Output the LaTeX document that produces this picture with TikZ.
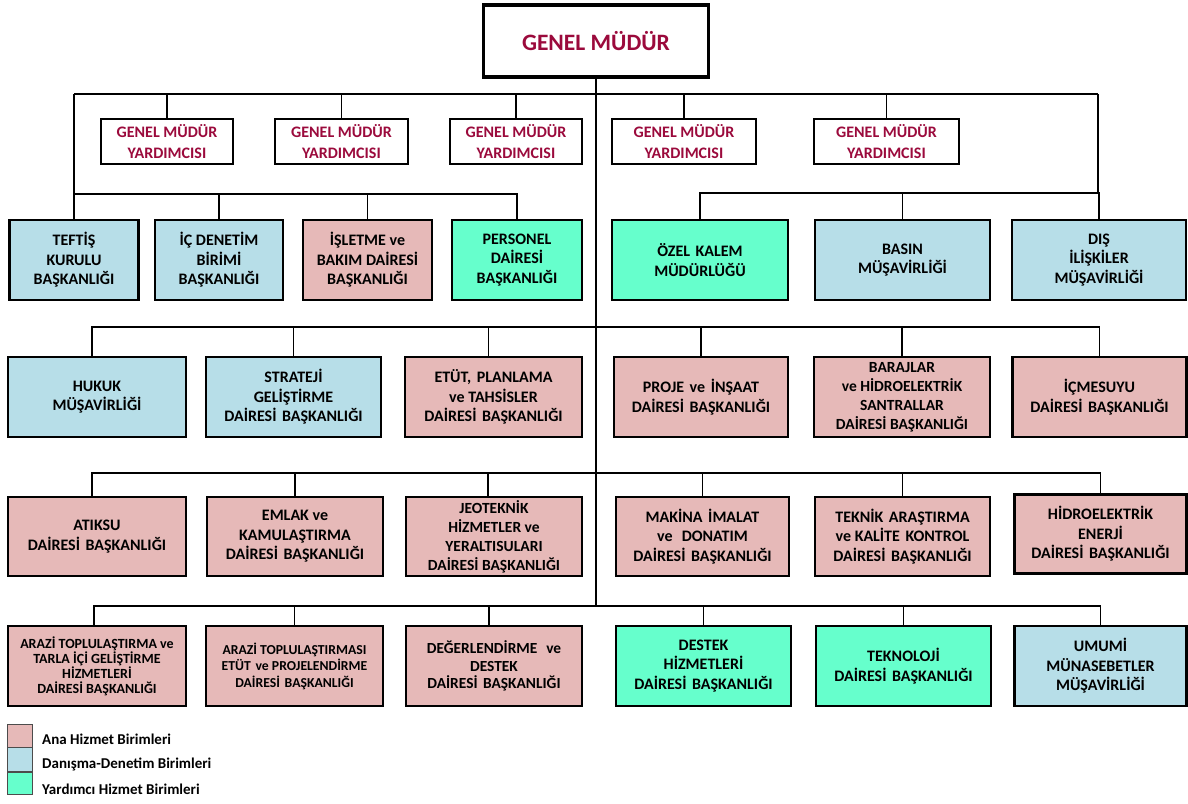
\documentclass[tikz,border=0pt]{standalone}
\usepackage{fontspec}
\setmainfont{Carlito}
\definecolor{pinkc}{HTML}{E6B9B8}
\definecolor{bluec}{HTML}{B7DEE8}
\definecolor{greenc}{HTML}{66FFCC}
\definecolor{crim}{RGB}{155,10,60}
\newcommand\dsp{\hspace{0.35em}}
\newcommand\ob[7]{\node[#2, minimum width=#5pt, minimum height=#6pt] (#1) at (#3,#4) {#7};}
\begin{document}
\begin{tikzpicture}[x=1pt,y=-1pt,
  box/.style={draw=black, line width=2.2pt, align=center, inner sep=0pt,
    font=\bfseries\fontsize{16}{19.5}\selectfont},
  ana/.style={box, fill=pinkc},
  dan/.style={box, fill=bluec},
  yar/.style={box, fill=greenc},
  four/.style={font=\bfseries\fontsize{15.5}{19}\selectfont},
  gmy/.style={box, fill=white, text=crim, font=\bfseries\fontsize{16}{20.5}\selectfont},
  conn/.style={line width=1.8pt},
  legsw/.style={draw=black!70, line width=0.8pt, minimum width=25pt, inner sep=0pt},
  legtx/.style={anchor=west, inner sep=0pt, font=\bfseries\fontsize{15}{16}\selectfont}]
\useasboundingbox (0,0) rectangle (1188,803);

% top
\node[box, line width=3.5pt, text=crim, minimum width=225pt, minimum height=72pt,
  font=\bfseries\fontsize{23.5}{28}\selectfont] (gm) at (596,41) {GENEL MÜDÜR};

\ob{gmy1}{gmy}{167}{141.5}{132}{45}{GENEL MÜDÜR\\YARDIMCISI}
\ob{gmy2}{gmy}{341.5}{141.5}{133}{45}{GENEL MÜDÜR\\YARDIMCISI}
\ob{gmy3}{gmy}{516}{141.5}{132}{45}{GENEL MÜDÜR\\YARDIMCISI}
\ob{gmy4}{gmy}{684}{141.5}{144}{45}{GENEL MÜDÜR\\YARDIMCISI}
\ob{gmy5}{gmy}{886.5}{141.5}{145}{45}{GENEL MÜDÜR\\YARDIMCISI}

% row 2
\ob{tef}{dan}{74}{260}{129}{80}{TEFTİŞ\\KURULU\\BAŞKANLIĞI}
\ob{ic}{dan}{219}{260}{128}{80}{İÇ DENETİM\\BİRİMİ\\BAŞKANLIĞI}
\ob{isl}{ana}{367.5}{260}{129}{80}{İŞLETME ve\\BAKIM DAİRESİ\\BAŞKANLIĞI}
\ob{per}{yar}{517}{260}{130}{80}{PERSONEL\\DAİRESİ\\BAŞKANLIĞI}
\ob{ozel}{yar}{700}{260}{176}{80}{ÖZEL\dsp KALEM\\MÜDÜRLÜĞÜ}
\ob{basin}{dan}{902.5}{260}{175}{80}{BASIN\\MÜŞAVİRLİĞİ}
\ob{dis}{dan}{1099}{260}{174}{80}{DIŞ\\İLİŞKİLER\\MÜŞAVİRLİĞİ}

% row 3
\ob{hukuk}{dan}{97}{397}{178}{80}{HUKUK\\MÜŞAVİRLİĞİ}
\ob{strat}{dan}{293.5}{397}{175}{80}{STRATEJİ\\GELİŞTİRME\\DAİRESİ\dsp BAŞKANLIĞI}
\ob{etut}{ana}{493.5}{397}{177}{80}{ETÜT,\dsp PLANLAMA\\ve TAHSİSLER\\DAİRESİ\dsp BAŞKANLIĞI}
\ob{proje}{ana}{701}{397}{174}{80}{PROJE\dsp ve\dsp İNŞAAT\\DAİRESİ\dsp BAŞKANLIĞI}
\ob{baraj}{ana,four}{902}{397}{176}{80}{BARAJLAR\\ve HİDROELEKTRİK\\SANTRALLAR\\DAİRESİ BAŞKANLIĞI}
\ob{icme}{ana}{1099.5}{397}{174}{80}{İÇMESUYU\\DAİRESİ\dsp BAŞKANLIĞI}

% row 4
\ob{atik}{ana}{97}{536.5}{178}{79}{ATIKSU\\DAİRESİ\dsp BAŞKANLIĞI}
\ob{emlak}{ana}{295}{536.5}{176}{79}{EMLAK ve\\KAMULAŞTIRMA\\DAİRESİ\dsp BAŞKANLIĞI}
\ob{jeo}{ana,four}{494}{536.5}{176}{79}{JEOTEKNİK\\HİZMETLER ve\\YERALTISULARI\\DAİRESİ BAŞKANLIĞI}
\ob{mak}{ana}{702.5}{536.5}{173}{79}{MAKİNA\dsp İMALAT\\ve\dsp\ DONATIM\\DAİRESİ\dsp BAŞKANLIĞI}
\ob{tek}{ana}{902.5}{536.5}{175}{79}{TEKNİK\dsp ARAŞTIRMA\\ve KALİTE\dsp KONTROL\\DAİRESİ\dsp BAŞKANLIĞI}
\ob{hidro}{ana}{1100.5}{534}{172}{79}{HİDROELEKTRİK\\ENERJİ\\DAİRESİ\dsp BAŞKANLIĞI}

% row 5
\ob{ar1}{ana,font=\bfseries\fontsize{14}{15}\selectfont}{97}{666}{178}{80}{ARAZİ TOPLULAŞTIRMA ve\\TARLA İÇİ GELİŞTİRME\\HİZMETLERİ\\DAİRESİ BAŞKANLIĞI}
\ob{ar2}{ana,font=\bfseries\fontsize{13.7}{16.5}\selectfont}{294.5}{666}{177}{80}{ARAZİ TOPLULAŞTIRMASI\\ETÜT\dsp ve PROJELENDİRME\\DAİRESİ\dsp BAŞKANLIĞI}
\ob{deger}{ana,font=\bfseries\fontsize{15.4}{17.5}\selectfont}{494}{666}{176}{80}{DEĞERLENDİRME\dsp\ ve\\DESTEK\\DAİRESİ\dsp BAŞKANLIĞI}
\ob{destek}{yar}{703.5}{666}{175}{80}{DESTEK\\HİZMETLERİ\\DAİRESİ\dsp BAŞKANLIĞI}
\ob{tekno}{yar}{903.5}{666}{175}{80}{TEKNOLOJİ\\DAİRESİ\dsp BAŞKANLIĞI}
\ob{umumi}{dan}{1100.5}{666}{172}{80}{UMUMİ\\MÜNASEBETLER\\MÜŞAVİRLİĞİ}

% junction coordinates
\coordinate (tl) at (74,94);
\coordinate (tr) at (1098,94);
\coordinate (tl2) at (74,194);
\coordinate (tr2) at (1098,193);
\coordinate (r3) at (596,327);
\coordinate (r4) at (596,473);
\coordinate (r5) at (596,606);

% connectors
\draw[conn] (gm.south) -- (r5);
\draw[conn] (tl) -- (tr);
\draw[conn] (tl) -- (tl2);
\draw[conn] (tr) -- (tr2);
\foreach \n in {gmy1,gmy2,gmy3,gmy4,gmy5}
  \draw[conn] (\n.north) -- (\n.north |- tl);
\foreach \n in {tef,ic,isl,per}
  \draw[conn] (tl2) -| (\n.north);
\foreach \n in {ozel,basin,dis}
  \draw[conn] (tr2) -| (\n.north);
\foreach \n in {strat,proje,baraj,icme}
  \draw[conn] (r3) -| (\n.north);
\draw[conn] (r3) -| ([xshift=-5pt]hukuk.north);
\draw[conn] (r3) -| ([xshift=-5pt]etut.north);
\foreach \n in {emlak,mak,tek,hidro}
  \draw[conn] (r4) -| (\n.north);
\draw[conn] (r4) -| ([xshift=-5pt]atik.north);
\draw[conn] (r4) -| ([xshift=-6pt]jeo.north);
\foreach \n in {ar2,destek,tekno,umumi}
  \draw[conn] (r5) -| (\n.north);
\draw[conn] (r5) -| ([xshift=-3pt]ar1.north);
\draw[conn] (r5) -| ([xshift=-5pt]deger.north);

% legend
\node[legsw, fill=pinkc, minimum height=23pt] (l1) at (20,735.5) {};
\node[legsw, fill=bluec, minimum height=24pt] (l2) at (20,759.5) {};
\node[legsw, fill=greenc, minimum height=22pt] (l3) at (20,783) {};
\node[legtx] (t1) at (42,739) {Ana Hizmet Birimleri};
\node[legtx] (t2) at (42,764) {Danışma-Denetim Birimleri};
\node[legtx] (t3) at (42,789) {Yardımcı Hizmet Birimleri};
\end{tikzpicture}
\end{document}
